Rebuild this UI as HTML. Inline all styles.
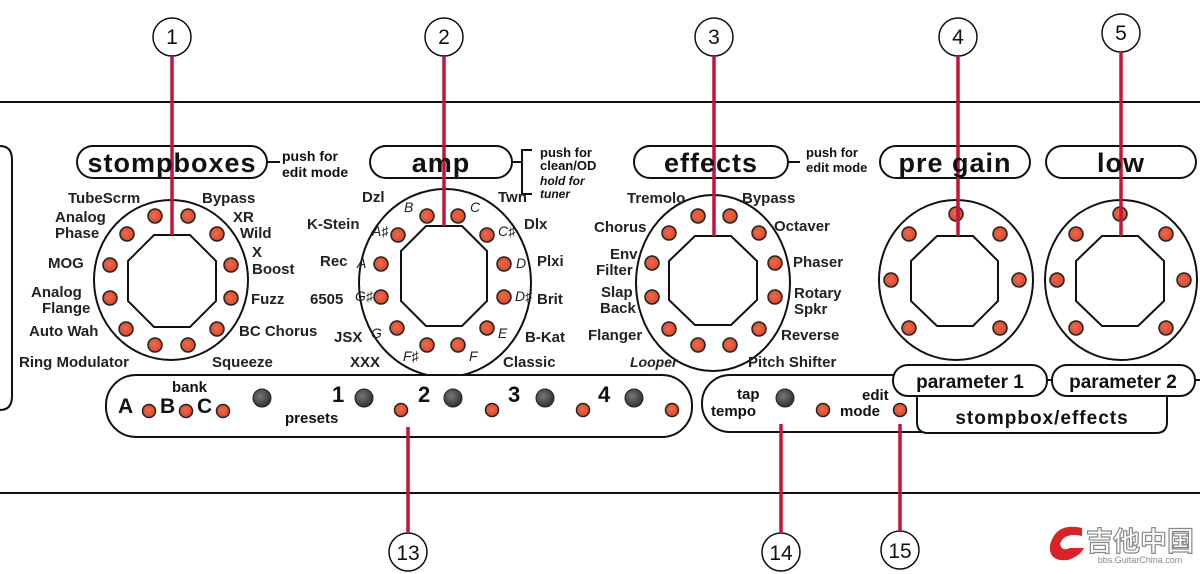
<!DOCTYPE html>
<html><head><meta charset="utf-8"><style>
html,body{margin:0;padding:0;background:#fff;}
svg{display:block;font-family:"Liberation Sans","DejaVu Sans",sans-serif;}
.b{font-weight:bold;}
</style></head><body>
<svg width="1200" height="574" viewBox="0 0 1200 574" xmlns="http://www.w3.org/2000/svg">
<defs>
<radialGradient id="led" cx="0.45" cy="0.45" r="0.6"><stop offset="0" stop-color="#f26a4a"/><stop offset="1" stop-color="#d2452a"/></radialGradient>
<radialGradient id="gled" cx="0.4" cy="0.4" r="0.6"><stop offset="0" stop-color="#777"/><stop offset="1" stop-color="#333"/></radialGradient>
</defs>
<g stroke="#111" fill="none">
<line x1="0" y1="102" x2="1200" y2="102" stroke-width="2"/>
<line x1="0" y1="493" x2="1200" y2="493" stroke-width="2"/>
<path d="M0 146 Q12 146 12 160 L12 396 Q12 410 0 410" stroke-width="2"/>
<rect x="77" y="146" width="190" height="32" rx="16" stroke-width="2"/>
<rect x="370" y="146" width="142" height="32" rx="16" stroke-width="2"/>
<rect x="634" y="146" width="154" height="32" rx="16" stroke-width="2"/>
<rect x="880" y="146" width="150" height="32" rx="16" stroke-width="2"/>
<rect x="1046" y="146" width="150" height="32" rx="16" stroke-width="2"/>
<line x1="267" y1="162" x2="280" y2="162" stroke-width="2"/>
<line x1="512" y1="162" x2="522" y2="162" stroke-width="2"/>
<path d="M532 150 L522 150 L522 194 L532 194" stroke-width="2"/>
<line x1="788" y1="162" x2="800" y2="162" stroke-width="2"/>
<ellipse cx="171" cy="280" rx="77" ry="80" stroke-width="2"/>
<polygon points="154,235 190,235 216,261 216,301 190,327 154,327 128,301 128,261" stroke-width="2"/>
<ellipse cx="445" cy="283" rx="86" ry="94" stroke-width="2"/>
<polygon points="426,226 462,226 487,251 487,301 462,326 426,326 401,301 401,251" stroke-width="2"/>
<ellipse cx="713" cy="283" rx="77" ry="88" stroke-width="2"/>
<polygon points="695,236 731,236 757,261 757,300 731,325 695,325 669,300 669,261" stroke-width="2"/>
<ellipse cx="956" cy="280" rx="77" ry="80" stroke-width="2"/>
<polygon points="937,236 973,236 998,261 998,301 973,326 937,326 911,301 911,261" stroke-width="2"/>
<ellipse cx="1121" cy="280" rx="76" ry="80" stroke-width="2"/>
<polygon points="1102,236 1138,236 1164,261 1164,301 1138,326 1102,326 1076,301 1076,261" stroke-width="2"/>
<rect x="106" y="375" width="586" height="62" rx="30" fill="#fff" stroke-width="2"/>
<rect x="702" y="375" width="320" height="57" rx="28" fill="#fff" stroke-width="2"/>
<path d="M917 396 L917 422 Q917 433 928 433 L1156 433 Q1167 433 1167 422 L1167 396" fill="#fff" stroke-width="2"/>
<rect x="893" y="365" width="154" height="31" rx="15" fill="#fff" stroke-width="2"/>
<rect x="1052" y="365" width="143" height="31" rx="15" fill="#fff" stroke-width="2"/>
<line x1="1047" y1="380" x2="1052" y2="380" stroke-width="2"/>
<line x1="1195" y1="380" x2="1200" y2="380" stroke-width="2"/>
<circle cx="172" cy="37" r="19" fill="#fff" stroke-width="1.5"/>
<circle cx="444" cy="37" r="19" fill="#fff" stroke-width="1.5"/>
<circle cx="714" cy="37" r="19" fill="#fff" stroke-width="1.5"/>
<circle cx="958" cy="37" r="19" fill="#fff" stroke-width="1.5"/>
<circle cx="1121" cy="33" r="19" fill="#fff" stroke-width="1.5"/>
<circle cx="408" cy="552" r="19" fill="#fff" stroke-width="1.5"/>
<circle cx="781" cy="552" r="19" fill="#fff" stroke-width="1.5"/>
<circle cx="900" cy="550" r="19" fill="#fff" stroke-width="1.5"/>
</g>
<g stroke="#222" stroke-width="1.5" fill="url(#led)">
<circle cx="155" cy="216" r="7"/><circle cx="188" cy="216" r="7"/><circle cx="127" cy="234" r="7"/><circle cx="217" cy="234" r="7"/><circle cx="110" cy="265" r="7"/><circle cx="231" cy="265" r="7"/><circle cx="110" cy="298" r="7"/><circle cx="231" cy="298" r="7"/><circle cx="126" cy="329" r="7"/><circle cx="217" cy="329" r="7"/><circle cx="155" cy="345" r="7"/><circle cx="188" cy="345" r="7"/>
<circle cx="427" cy="216" r="7"/><circle cx="458" cy="216" r="7"/><circle cx="398" cy="235" r="7"/><circle cx="487" cy="235" r="7"/><circle cx="381" cy="264" r="7"/><circle cx="504" cy="264" r="7"/><circle cx="381" cy="297" r="7"/><circle cx="504" cy="297" r="7"/><circle cx="397" cy="328" r="7"/><circle cx="487" cy="328" r="7"/><circle cx="427" cy="345" r="7"/><circle cx="458" cy="345" r="7"/>
<circle cx="698" cy="216" r="7"/><circle cx="730" cy="216" r="7"/><circle cx="669" cy="233" r="7"/><circle cx="759" cy="233" r="7"/><circle cx="652" cy="263" r="7"/><circle cx="775" cy="263" r="7"/><circle cx="652" cy="297" r="7"/><circle cx="775" cy="297" r="7"/><circle cx="669" cy="329" r="7"/><circle cx="759" cy="329" r="7"/><circle cx="698" cy="345" r="7"/><circle cx="730" cy="345" r="7"/>
<circle cx="956" cy="214" r="7"/><circle cx="909" cy="234" r="7"/><circle cx="1000" cy="234" r="7"/><circle cx="891" cy="280" r="7"/><circle cx="1019" cy="280" r="7"/><circle cx="909" cy="328" r="7"/><circle cx="1000" cy="328" r="7"/>
<circle cx="1120" cy="214" r="7"/><circle cx="1076" cy="234" r="7"/><circle cx="1166" cy="234" r="7"/><circle cx="1057" cy="280" r="7"/><circle cx="1184" cy="280" r="7"/><circle cx="1076" cy="328" r="7"/><circle cx="1166" cy="328" r="7"/>
<circle cx="149" cy="411" r="6.5"/><circle cx="186" cy="411" r="6.5"/><circle cx="223" cy="411" r="6.5"/><circle cx="401" cy="410" r="6.5"/><circle cx="492" cy="410" r="6.5"/><circle cx="583" cy="410" r="6.5"/><circle cx="672" cy="410" r="6.5"/>
<circle cx="823" cy="410" r="6.5"/><circle cx="900" cy="410" r="6.5"/>
</g>
<g stroke="#222" stroke-width="1" fill="url(#gled)">
<circle cx="262" cy="398" r="9"/><circle cx="364" cy="398" r="9"/><circle cx="453" cy="398" r="9"/><circle cx="545" cy="398" r="9"/><circle cx="634" cy="398" r="9"/><circle cx="785" cy="398" r="9"/>
</g>
<g stroke="#c4143a" stroke-width="3.5">
<line x1="172" y1="56" x2="172" y2="235"/>
<line x1="444" y1="56" x2="444" y2="226"/>
<line x1="714" y1="56" x2="714" y2="236"/>
<line x1="958" y1="56" x2="958" y2="236"/>
<line x1="1121" y1="52" x2="1121" y2="236"/>
<line x1="408" y1="427" x2="408" y2="533"/>
<line x1="781" y1="424" x2="781" y2="533"/>
<line x1="900" y1="424" x2="900" y2="531"/>
</g>
<g fill="#111" text-anchor="middle" font-size="21">
<text x="172" y="44">1</text><text x="444" y="44">2</text><text x="714" y="44">3</text><text x="958" y="44">4</text><text x="1121" y="40">5</text>
<text x="408" y="560">13</text><text x="781" y="560">14</text><text x="900" y="558">15</text>
</g>
<g fill="#111" class="b" text-anchor="middle" font-size="27">
<text x="172" y="172" letter-spacing="1">stompboxes</text>
<text x="441" y="172" letter-spacing="1">amp</text>
<text x="711" y="172" letter-spacing="1">effects</text>
<text x="955" y="172" letter-spacing="1">pre gain</text>
<text x="1121" y="172" letter-spacing="1">low</text>
</g>
<g fill="#111" class="b" font-size="14">
<text x="282" y="161">push for</text><text x="282" y="177">edit mode</text>
<text x="540" y="157" font-size="13">push for</text><text x="540" y="170" font-size="13">clean/OD</text>
<text x="540" y="185" font-size="12" font-style="italic">hold for</text><text x="540" y="198" font-size="12" font-style="italic">tuner</text>
<text x="806" y="157" font-size="13">push for</text><text x="806" y="172" font-size="13">edit mode</text>
</g>
<g fill="#222" class="b" font-size="15">
<text x="68" y="203">TubeScrm</text><text x="202" y="203">Bypass</text>
<text x="55" y="222">Analog</text><text x="55" y="238">Phase</text>
<text x="233" y="222">XR</text><text x="240" y="238">Wild</text>
<text x="48" y="268">MOG</text>
<text x="252" y="257">X</text><text x="252" y="274">Boost</text>
<text x="31" y="297">Analog</text><text x="42" y="313">Flange</text>
<text x="251" y="304">Fuzz</text>
<text x="29" y="336">Auto Wah</text><text x="239" y="336">BC Chorus</text>
<text x="19" y="367">Ring Modulator</text><text x="212" y="367">Squeeze</text>
<text x="362" y="202">Dzl</text><text x="498" y="202">Twn</text>
<text x="307" y="229">K-Stein</text><text x="524" y="229">Dlx</text>
<text x="320" y="266">Rec</text><text x="537" y="266">Plxi</text>
<text x="310" y="304">6505</text><text x="537" y="304">Brit</text>
<text x="334" y="342">JSX</text><text x="525" y="342">B-Kat</text>
<text x="350" y="367">XXX</text><text x="503" y="367">Classic</text>
<text x="627" y="203">Tremolo</text><text x="742" y="203">Bypass</text>
<text x="594" y="232">Chorus</text><text x="774" y="231">Octaver</text>
<text x="610" y="259">Env</text><text x="596" y="275">Filter</text>
<text x="793" y="267">Phaser</text>
<text x="601" y="297">Slap</text><text x="600" y="313">Back</text>
<text x="794" y="298">Rotary</text><text x="794" y="314">Spkr</text>
<text x="588" y="340">Flanger</text><text x="781" y="340">Reverse</text>
<text x="630" y="367" font-style="italic" font-size="14">Looper</text><text x="748" y="367">Pitch Shifter</text>
</g>
<g fill="#222" font-size="14" font-style="italic">
<text x="404" y="212">B</text><text x="470" y="212">C</text>
<text x="372" y="236">A♯</text><text x="498" y="236">C♯</text>
<text x="357" y="268">A</text><text x="516" y="268">D</text>
<text x="355" y="301">G♯</text><text x="515" y="301">D♯</text>
<text x="371" y="338">G</text><text x="498" y="338">E</text>
<text x="403" y="361">F♯</text><text x="469" y="361">F</text>
</g>
<g fill="#111" class="b">
<text x="118" y="413" font-size="21">A</text><text x="160" y="413" font-size="21">B</text><text x="197" y="413" font-size="21">C</text>
<text x="172" y="392" font-size="15">bank</text>
<text x="285" y="423" font-size="15">presets</text>
<text x="332" y="402" font-size="22">1</text><text x="418" y="402" font-size="22">2</text><text x="508" y="402" font-size="22">3</text><text x="598" y="402" font-size="22">4</text>
<text x="737" y="399" font-size="15">tap</text><text x="711" y="416" font-size="15">tempo</text>
<text x="862" y="400" font-size="15">edit</text><text x="840" y="416" font-size="15">mode</text>
<text x="970" y="388" font-size="19" text-anchor="middle">parameter 1</text>
<text x="1123" y="388" font-size="19" text-anchor="middle">parameter 2</text>
<text x="1042" y="424" font-size="19" text-anchor="middle" letter-spacing="1">stompbox/effects</text>
</g>
<path d="M1082 528 Q1056 522 1050 545 Q1048 562 1068 560 Q1080 556 1084 548 L1070 548 Q1062 552 1060 544 Q1064 532 1082 536 Z" fill="#d8232a"/>
<text x="1140" y="551" font-size="27" text-anchor="middle" fill="#fff" stroke="#888" stroke-width="1.2" font-family="'Noto Sans CJK SC',sans-serif" font-weight="bold">吉他中国</text>
<text x="1140" y="563" font-size="9" text-anchor="middle" fill="#888">bbs.GuitarChina.com</text>
</svg>
</body></html>
